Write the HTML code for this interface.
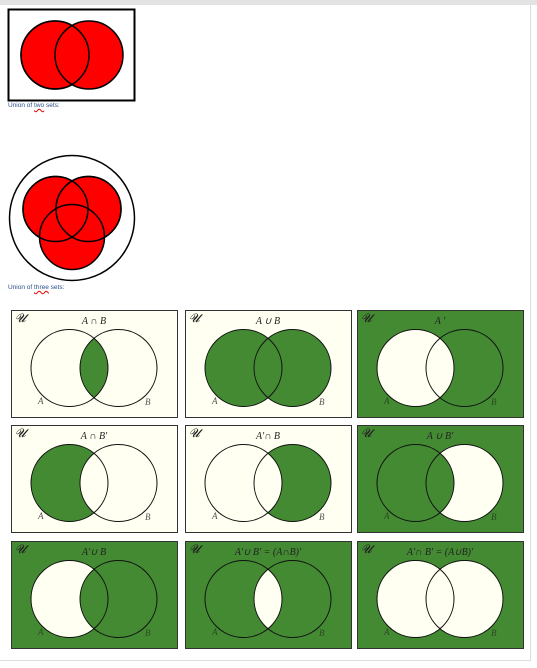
<!DOCTYPE html>
<html><head><meta charset="utf-8">
<style>
body{margin:0;width:537px;height:668px;background:#fff;overflow:hidden;position:relative;font-family:"Liberation Sans",sans-serif}
.cap{position:absolute;left:8px;font-size:6.5px;color:#2b4f8a}
.cap u{text-decoration:underline wavy #d00}
</style></head><body>
<div style="position:absolute;left:0;top:0;width:537px;height:5px;background:#e3e3e3"></div>
<div style="position:absolute;left:-1px;top:5px;width:531px;height:655px;border-right:1px solid #ddd;border-bottom:1px solid #ddd"></div>
<svg id="svg" width="537" height="668" style="position:absolute;left:0;top:0">
 <g>
  <rect x="8.5" y="9.5" width="126" height="91" fill="#fff" stroke="#000" stroke-width="2"/>
  <circle cx="55" cy="55" r="34" fill="#f00" stroke="#000" stroke-width="1.5"/>
  <circle cx="89" cy="55" r="34" fill="#f00" stroke="#000" stroke-width="1.5"/>
  <circle cx="55" cy="55" r="34" fill="none" stroke="#000" stroke-width="1.5"/>
 </g>
 <g>
  <circle cx="72" cy="218" r="62.5" fill="#fff" stroke="#000" stroke-width="1.5"/>
  <circle cx="55.5" cy="209" r="32.5" fill="#f00" stroke="#000" stroke-width="1.5"/>
  <circle cx="88.5" cy="209" r="32.5" fill="#f00" stroke="#000" stroke-width="1.5"/>
  <circle cx="72" cy="237" r="32.5" fill="#f00" stroke="#000" stroke-width="1.5"/>
  <circle cx="55.5" cy="209" r="32.5" fill="none" stroke="#000" stroke-width="1.5"/>
  <circle cx="88.5" cy="209" r="32.5" fill="none" stroke="#000" stroke-width="1.5"/>
 </g>
</svg>
<div class="cap" style="top:102px">Union of <u>two</u> sets:</div>
<div class="cap" style="top:284px">Union of <u>three</u> sets:</div>
<script>
const G='#438a33',C='#fffff2';
const titles=["A ∩ B","A ∪ B","A '","A ∩ B'","A'∩ B","A ∪ B'","A'∪ B","A'∪ B' = (A∩B)'","A'∩ B' = (A∪B)'"];
// region colors: [outside, A only, B only, A and B]
const fills=[[C,C,C,G],[C,G,G,G],[G,C,G,C],[C,G,C,C],[C,C,G,C],[G,G,C,G],[G,C,G,G],[G,G,G,C],[G,C,C,C]];
const colX=[11,185,357],rowY=[310,425,541];
const svg=document.getElementById('svg');const NS='http://www.w3.org/2000/svg';
function mk(t,a,p){const e=document.createElementNS(NS,t);for(const k in a)e.setAttribute(k,a[k]);p.appendChild(e);return e;}
const defs=mk('defs',{},svg);
titles.forEach((t,i)=>{
 const x0=colX[i%3],y0=rowY[Math.floor(i/3)],f=fills[i];
 const g=mk('g',{},svg);
 
 
 const ax=x0+58.5,bx=x0+107.5,cy=y0+58,r=38.5;
 const cp=mk('clipPath',{id:'cb'+i},defs);mk('circle',{cx:bx,cy:cy,r:r},cp);
 mk('rect',{x:x0+0.5,y:y0+0.5,width:166,height:107,fill:f[0],stroke:'#333','stroke-width':1},g);
 mk('circle',{cx:ax,cy:cy,r:r,fill:f[1]},g);
 mk('circle',{cx:bx,cy:cy,r:r,fill:f[2]},g);
 mk('circle',{cx:ax,cy:cy,r:r,fill:f[3],'clip-path':'url(#cb'+i+')'},g);
 mk('circle',{cx:ax,cy:cy,r:r,fill:'none',stroke:'#111','stroke-width':1},g);
 mk('circle',{cx:bx,cy:cy,r:r,fill:'none',stroke:'#111','stroke-width':1},g);
 const tf='font-family:"Liberation Serif",serif;font-style:italic;';
 const lc=f[0]===G?'#2a4a22':'#555';
 let e=mk('text',{x:x0+4,y:y0+12,'font-size':12,style:tf,fill:'#222'},g);e.textContent='𝓤';
 
 e=mk('text',{x:x0+83,y:y0+14,'font-size':10,'text-anchor':'middle',style:tf,fill:'#222'},g);e.textContent=t;
 
 e=mk('text',{x:x0+27,y:y0+94,'font-size':9,style:tf,fill:lc},g);e.textContent='A';
 
 e=mk('text',{x:x0+134,y:y0+95,'font-size':9,style:tf,fill:lc},g);e.textContent='B';
 
});
</script>
</body></html>
